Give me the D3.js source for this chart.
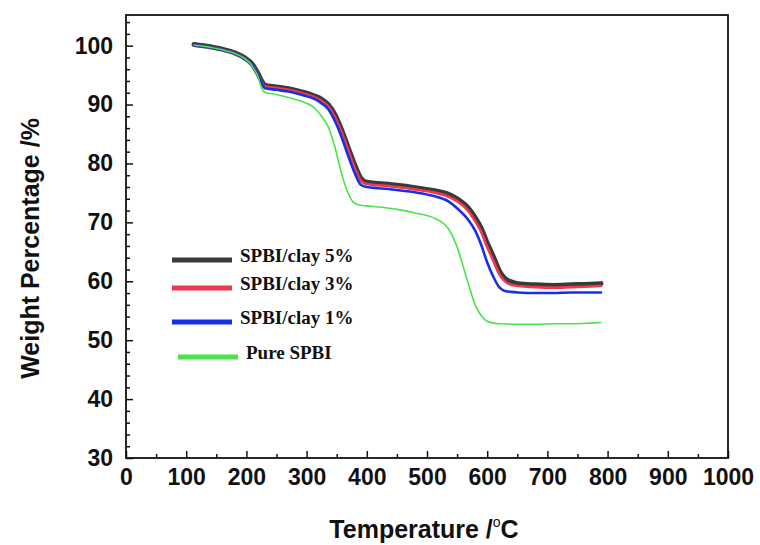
<!DOCTYPE html>
<html>
<head>
<meta charset="utf-8">
<script src="https://cdn.jsdelivr.net/npm/d3@7"></script>
<style>
  body { margin: 0; background: #fff; }
</style>
</head>
<body>
<script>
// donnees
var temperature = [113, 140, 160, 180, 196, 210, 219, 226, 230, 250, 270, 290, 312, 325, 336, 347, 357, 368, 379, 390, 400, 420, 450, 480, 510, 535, 550, 568, 580, 590, 600, 611, 620, 628, 640, 651, 680, 710, 740, 770, 789];

var clay5 = [100.2, 99.8, 99.4, 98.8, 98.0, 96.8, 95.3, 93.9, 93.3, 93.0, 92.7, 92.2, 91.5, 90.9, 90.0, 88.3, 86.0, 83.0, 80.0, 77.5, 76.8, 76.6, 76.3, 75.9, 75.4, 74.8, 74.0, 72.5, 70.8, 69.0, 66.5, 64.0, 61.8, 60.6, 59.9, 59.6, 59.4, 59.3, 59.4, 59.5, 59.6];
var clay3 = [100.1, 99.7, 99.3, 98.7, 97.9, 96.7, 95.2, 93.7, 93.1, 92.8, 92.5, 92.0, 91.3, 90.6, 89.7, 87.9, 85.6, 82.6, 79.5, 77.1, 76.5, 76.3, 76.0, 75.6, 75.1, 74.4, 73.6, 72.0, 70.2, 68.4, 65.8, 63.3, 61.2, 60.1, 59.4, 59.2, 59.0, 58.9, 59.0, 59.1, 59.2];
var clay1 = [100.1, 99.7, 99.3, 98.7, 97.9, 96.7, 95.1, 93.5, 92.8, 92.5, 92.2, 91.7, 91.0, 90.2, 89.2, 87.2, 84.8, 81.6, 78.6, 76.4, 76.0, 75.8, 75.5, 75.1, 74.5, 73.6, 72.4, 70.5, 68.6, 66.2, 63.2, 60.6, 59.0, 58.4, 58.2, 58.1, 58.0, 58.0, 58.1, 58.1, 58.1];
var pure = [100.1, 99.7, 99.3, 98.7, 97.9, 96.5, 94.8, 92.6, 92.1, 91.7, 91.2, 90.6, 89.5, 88.0, 86.2, 82.8, 78.7, 75.2, 73.3, 72.9, 72.8, 72.6, 72.2, 71.6, 70.8, 69.0, 65.8, 59.8, 56.0, 54.2, 53.2, 52.9, 52.8, 52.8, 52.7, 52.7, 52.7, 52.8, 52.8, 52.9, 53.0];

var seriesNames = ["SPBI/clay 5%", "SPBI/clay 3%", "SPBI/clay 1%", "Pure SPBI"];
var seriesValues = [clay5, clay3, clay1, pure];
var seriesColors = ["#3a3a3a", "#f2384f", "#1730e6", "#48e448"];
var seriesWidths = [5, 2.6, 2.6, 1.6];

var xTicks = [0, 100, 200, 300, 400, 500, 600, 700, 800, 900, 1000];
var yTicks = [30, 40, 50, 60, 70, 80, 90, 100];

// Les dimensions
var margin = {top: 15, right: 32, bottom: 87, left: 126};
var width = 760 - margin.left - margin.right;
var height = 545 - margin.top - margin.bottom;

var svg = d3.select("body").append("svg")
            .attr("width", 760)
            .attr("height", 545)
            .append("g")
            .attr("transform", "translate(" + margin.left + "," + margin.top + ")");

var x = d3.scaleLinear().domain([0, 1000]).range([0, width]);
var y = d3.scaleLinear().domain([30, 105.2]).range([height, 0]);

// axes : graduations vers l'interieur
var axeX = d3.axisBottom(x).tickValues(xTicks).tickSize(-7).tickPadding(11)
             .tickFormat(d3.format("d"));
var axeXmin = d3.axisBottom(x).tickValues(d3.range(50, 1000, 100)).tickSize(-4).tickFormat("");
var axeY = d3.axisLeft(y).tickValues(yTicks).tickSize(-7).tickPadding(13)
             .tickFormat(d3.format("d"));
var axeYmin = d3.axisLeft(y).tickValues(d3.range(32, 105, 2).filter(d => d % 10 !== 0)).tickSize(-4).tickFormat("");

function styleAxis(g) {
  g.select(".domain").remove();
  g.selectAll("line").attr("stroke", "#111").attr("stroke-width", 1.5);
  g.selectAll("text")
   .style("font-family", "'Liberation Sans', Arial, sans-serif")
   .style("font-weight", "bold")
   .style("font-size", "23px")
   .attr("fill", "#111");
}

svg.append("g").attr("transform", "translate(0," + height + ")").call(axeX).call(styleAxis);
svg.append("g").attr("transform", "translate(0," + height + ")").call(axeXmin).call(styleAxis);
svg.append("g").call(axeY).call(styleAxis);
svg.append("g").call(axeYmin).call(styleAxis);

// cadre
svg.append("rect")
   .attr("width", width).attr("height", height)
   .attr("fill", "none").attr("stroke", "#111").attr("stroke-width", 1.8);

// courbes
var line = d3.line()
             .x((d, i) => x(temperature[i]))
             .y(d => y(d))
             .curve(d3.curveMonotoneX);

seriesValues.forEach(function(vals, i) {
  svg.append("path")
     .attr("d", line(vals))
     .attr("fill", "none")
     .attr("stroke", seriesColors[i])
     .attr("stroke-width", seriesWidths[i])
     .attr("stroke-linejoin", "round")
     .attr("stroke-linecap", "round");
});

// legende
var legendX = [46, 46, 46, 52];
var legendY = [245, 273, 307, 342];
seriesNames.forEach(function(name, i) {
  var g = svg.append("g").attr("transform", "translate(" + legendX[i] + "," + legendY[i] + ")");
  g.append("line")
   .attr("x1", 0).attr("x2", 60)
   .attr("stroke", seriesColors[i]).attr("stroke-width", 5);
  g.append("text")
   .attr("x", 68).attr("y", 2)
   .style("font-family", "'Liberation Serif', 'Times New Roman', serif")
   .style("font-weight", "bold")
   .style("font-size", "19px")
   .attr("fill", "#111")
   .text(name);
});

// titres des axes
var titre = svg.append("text")
   .attr("x", width / 2 - 3).attr("y", height + 80)
   .attr("text-anchor", "middle")
   .style("font-family", "'Liberation Sans', Arial, sans-serif")
   .style("font-weight", "bold")
   .style("font-size", "25px")
   .attr("fill", "#111");
titre.append("tspan").text("Temperature /");
titre.append("tspan").text("o").attr("dy", -11).style("font-size", "14px").style("font-weight", "normal");
titre.append("tspan").text("C").attr("dy", 11);

svg.append("text")
   .attr("transform", "translate(-87," + (height / 2 + 12) + ") rotate(-90)")
   .attr("text-anchor", "middle")
   .style("font-family", "'Liberation Sans', Arial, sans-serif")
   .style("font-weight", "bold")
   .style("font-size", "25px")
   .attr("fill", "#111")
   .text("Weight Percentage /%");
</script>
</body>
</html>
